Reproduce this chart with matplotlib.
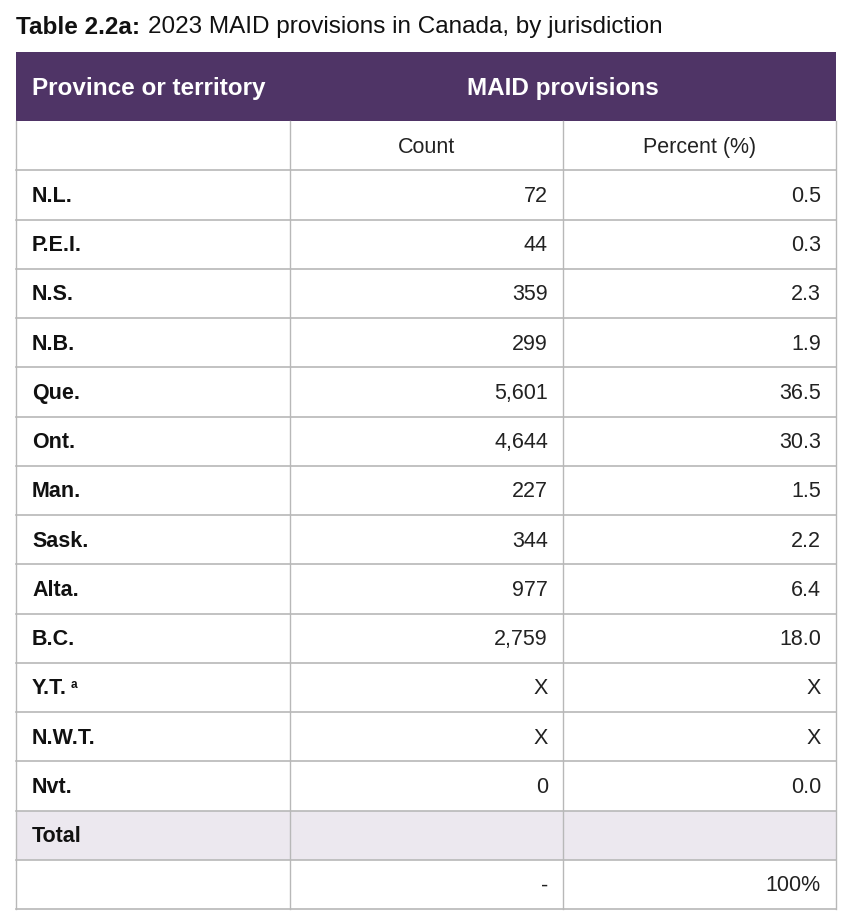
import matplotlib.pyplot as plt
from matplotlib.patches import Rectangle

plt.rcParams['font.family'] = ['Liberation Sans', 'DejaVu Sans']

provinces = ["N.L.", "P.E.I.", "N.S.", "N.B.", "Que.", "Ont.", "Man.", "Sask.",
             "Alta.", "B.C.", "Y.T.", "N.W.T.", "Nvt."]
counts = ["72", "44", "359", "299", "5,601", "4,644", "227", "344", "977",
          "2,759", "X", "X", "0"]
percents = ["0.5", "0.3", "2.3", "1.9", "36.5", "30.3", "1.5", "2.2", "6.4",
            "18.0", "X", "X", "0.0"]
total_count = "-"
total_percent = "100%"

purple = "#4f3466"
grid = "#b8b8b8"
shade = "#ece8ef"

fig = plt.figure(figsize=(8.5, 9.24), dpi=100)
ax = fig.add_axes([0, 0, 1, 1])
ax.set_xlim(0, 850)
ax.set_ylim(924, 0)
ax.axis("off")

x0, x1, x2, x3 = 16, 290, 563, 836
head_top, head_bot = 52, 121
row_h = 49.25

# title
ax.text(x0, 27, "Table 2.2a:", fontsize=17.5, fontweight="bold", va="center", ha="left", color="#111111")
ax.text(148, 27, "2023 MAID provisions in Canada, by jurisdiction", fontsize=17.5, va="center", ha="left", color="#111111")

# header band
ax.add_patch(Rectangle((x0, head_top), x3 - x0, head_bot - head_top, color=purple, lw=0))
ax.text(32, (head_top + head_bot) / 2 + 2, "Province or territory", color="white", fontsize=17.5,
        fontweight="bold", va="center", ha="left")
ax.text((x1 + x3) / 2, (head_top + head_bot) / 2 + 2, "MAID provisions", color="white", fontsize=17.5,
        fontweight="bold", va="center", ha="center")

rows = [("", "Count", "Percent (%)")] + list(zip(provinces, counts, percents)) + \
       [("Total", "", ""), ("", total_count, total_percent)]

for i, (lab, c, p) in enumerate(rows):
    top = head_bot + i * row_h
    yc = top + row_h / 2 + 1.5
    if lab == "Total":
        ax.add_patch(Rectangle((x0, top), x3 - x0, row_h, color=shade, lw=0))
    if i == 0:
        ax.text((x1 + x2) / 2, yc, c, fontsize=15.5, va="center", ha="center", color="#222222")
        ax.text((x2 + x3) / 2, yc, p, fontsize=15.5, va="center", ha="center", color="#222222")
    else:
        ax.text(32, yc, lab, fontsize=15.5, fontweight="bold", va="center", ha="left", color="#111111")
        if lab == "Y.T.":
            ax.text(71, yc - 4, "a", fontsize=8.5, fontweight="bold", va="center", ha="left", color="#111111")
        ax.text(x2 - 15, yc, c, fontsize=15.5, va="center", ha="right", color="#222222")
        ax.text(x3 - 15, yc, p, fontsize=15.5, va="center", ha="right", color="#222222")
    ax.plot([x0, x3], [top + row_h, top + row_h], color=grid, lw=1.2)

bottom = head_bot + len(rows) * row_h
for x in (x0, x1, x2, x3):
    ax.plot([x, x], [head_bot, bottom], color=grid, lw=1.0)

fig.savefig("out.png", dpi=100)
